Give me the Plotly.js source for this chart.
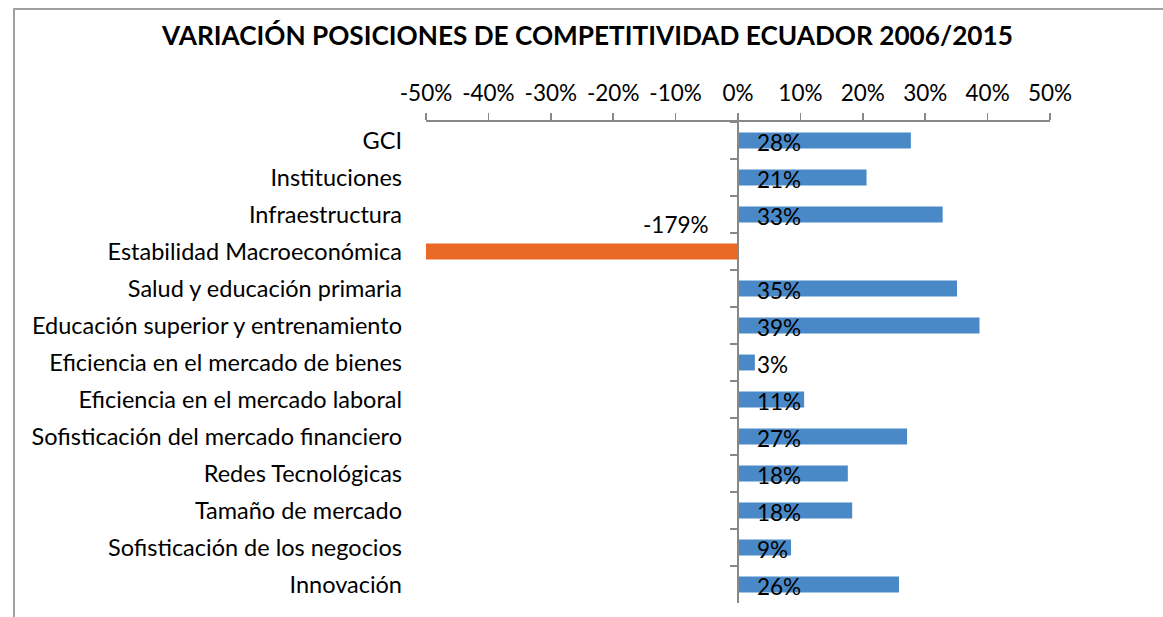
<!DOCTYPE html>
<html>
<head>
<meta charset="utf-8">
<script src="https://cdn.plot.ly/plotly-3.0.1.min.js"></script>
<style>
  html, body { margin: 0; padding: 0; background: #fff; }
  #chart { width: 1163px; height: 617px; position: relative; }
  #frame { position: absolute; left: 13px; top: 8px; width: 1160px; height: 620px;
           border-top: 2px solid #a0a0a0; border-left: 2px solid #a0a0a0; pointer-events: none; }
</style>
</head>
<body>
<div id="chart"></div>
<div id="frame"></div>
<script>
const categories = [
  "GCI",
  "Instituciones",
  "Infraestructura",
  "Estabilidad Macroeconómica",
  "Salud y educación primaria",
  "Educación superior y entrenamiento",
  "Eficiencia en el mercado de bienes",
  "Eficiencia en el mercado laboral",
  "Sofisticación del mercado financiero",
  "Redes Tecnológicas",
  "Tamaño de mercado",
  "Sofisticación de los negocios",
  "Innovación"
];
const values = [0.277, 0.206, 0.328, -1.79, 0.351, 0.387, 0.027, 0.106, 0.271, 0.176, 0.183, 0.085, 0.258];
const xTickValues = [-0.5, -0.4, -0.3, -0.2, -0.1, 0, 0.1, 0.2, 0.3, 0.4, 0.5];
const titleText = "VARIACIÓN POSICIONES DE COMPETITIVIDAD ECUADOR 2006/2015";

const BLUE = "#4a89c8";
const ORANGE = "#e96a25";
const FONT = "Lato, 'Open Sans', sans-serif";
const xMin = -0.5, xMax = 0.5;

const pct = v => Math.round(v * 100) + "%";
const colors = values.map(v => v < 0 ? ORANGE : BLUE);
const labels = values.map(pct);
const xTickText = xTickValues.map(pct);

const bars = {
  type: "bar",
  orientation: "h",
  y: categories,
  x: values,
  marker: { color: colors },
  width: 0.43,
  hoverinfo: "skip",
  yaxis: "y"
};
const axisHelper = {
  type: "scatter",
  mode: "none",
  y: categories,
  x: categories.map(() => 0),
  yaxis: "y2",
  hoverinfo: "skip",
  showlegend: false
};

const annotations = values.map((v, i) => {
  if (v < xMin) {
    return { x: 0, y: categories[i], xref: "x", yref: "y", text: labels[i], showarrow: false,
             xanchor: "right", yanchor: "middle", xshift: -27, yshift: 27,
             font: { family: FONT, size: 22.5, color: "#000" } };
  }
  return { x: 0, y: categories[i], xref: "x", yref: "y", text: labels[i], showarrow: false,
           xanchor: "left", yanchor: "middle", xshift: 17, yshift: -2,
           font: { family: FONT, size: 22.5, color: "#000" } };
});

const layout = {
  width: 1163,
  height: 617,
  margin: { l: 426, r: 113, t: 122, b: 14 },
  paper_bgcolor: "#fff",
  plot_bgcolor: "#fff",
  showlegend: false,
  font: { family: FONT, color: "#000" },
  title: {
    text: titleText,
    font: { family: FONT, size: 26.2, color: "#000", weight: "bold" },
    x: 587.5 / 1163, xref: "container", xanchor: "center",
    y: 1 - 36 / 617, yref: "container", yanchor: "middle"
  },
  xaxis: {
    side: "top",
    range: [xMin, xMax],
    tickvals: xTickValues,
    ticktext: xTickText,
    showgrid: false,
    zeroline: false,
    showline: true,
    linecolor: "#888",
    linewidth: 2,
    ticks: "outside",
    ticklen: 7,
    tickwidth: 1.5,
    tickcolor: "#888",
    tickfont: { family: FONT, size: 22.5, color: "#000" },
    ticklabelstandoff: 3,
    fixedrange: true
  },
  yaxis: {
    type: "category",
    categoryorder: "array",
    categoryarray: categories,
    range: [categories.length - 0.5, -0.5],
    showgrid: false,
    zeroline: false,
    showline: false,
    ticks: "",
    tickfont: { family: FONT, size: 23.5, color: "#000" },
    ticklabelstandoff: 23,
    fixedrange: true
  },
  yaxis2: {
    type: "category",
    categoryorder: "array",
    categoryarray: categories,
    range: [categories.length - 0.5, -0.5],
    overlaying: "y",
    anchor: "free",
    position: (0 - xMin) / (xMax - xMin),
    side: "left",
    showgrid: false,
    zeroline: false,
    showline: true,
    linecolor: "#888",
    linewidth: 2,
    ticks: "outside",
    tickson: "boundaries",
    ticklen: 7,
    tickwidth: 1.5,
    tickcolor: "#888",
    showticklabels: false,
    fixedrange: true
  },
  annotations: annotations
};

Plotly.newPlot("chart", [bars, axisHelper], layout, { displayModeBar: false, staticPlot: true });
</script>
</body>
</html>
